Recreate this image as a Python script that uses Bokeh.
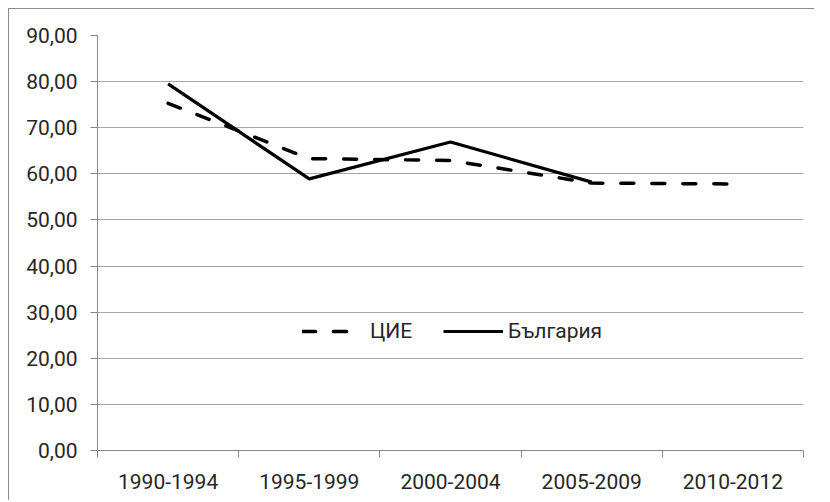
from bokeh.plotting import figure
from bokeh.models import FixedTicker, Range1d, Legend, LegendItem, ColumnDataSource
from bokeh.embed import file_html
from bokeh.resources import INLINE

categories = ["1990-1994", "1995-1999", "2000-2004", "2005-2009", "2010-2012"]
cie = [75.3, 63.3, 62.9, 58.0, 57.8]
bulgaria = [79.5, 58.9, 66.9, 58.2, float("nan")]
series_names = ["ЦИЕ", "България"]
y_ticks = [0, 10, 20, 30, 40, 50, 60, 70, 80, 90]

FONT = "Roboto"
TEXT = "#262626"

FW, FH = 706, 415
BL, BT, BR, BB = 88, 26, 11, 50

xs = [i + 0.5 for i in range(len(categories))]

p = figure(frame_width=FW, frame_height=FH, output_backend="svg", toolbar_location=None,
           x_range=Range1d(0, len(categories)), y_range=Range1d(0, 90),
           min_border_left=BL, min_border_top=BT, min_border_right=BR, min_border_bottom=BB)
p.styles = {"border-left": "1px solid #8c8c8c", "border-top": "1px solid #8c8c8c",
            "margin-left": "8px", "margin-top": "8px"}
p.outline_line_color = None
p.background_fill_color = "white"
p.border_fill_color = "white"

src = ColumnDataSource(dict(x=xs, cie=cie, bg=bulgaria))
r_cie = p.line("x", "cie", source=src, line_color="black", line_width=3.5,
               line_dash="13 18", line_cap="round", line_join="round")
r_bg = p.line("x", "bg", source=src, line_color="black", line_width=3.2,
              line_join="round")

# y axis
p.yaxis.ticker = FixedTicker(ticks=y_ticks, minor_ticks=[])
p.yaxis.major_label_overrides = {t: f"{t:.2f}".replace(".", ",") for t in y_ticks}
p.yaxis.axis_line_color = "#868686"
p.yaxis.major_tick_line_color = "#868686"
p.yaxis.major_tick_out = 7
p.yaxis.major_tick_in = 0
p.yaxis.major_label_standoff = 13
p.yaxis.major_label_text_font = FONT
p.yaxis.major_label_text_font_size = "21px"
p.yaxis.major_label_text_color = TEXT

# x axis: labels at category centers, ticks at category boundaries
p.xaxis.ticker = FixedTicker(ticks=xs, minor_ticks=list(range(len(categories) + 1)))
p.xaxis.major_label_overrides = {x: c for x, c in zip(xs, categories)}
p.xaxis.axis_line_color = "#868686"
p.xaxis.major_tick_line_color = None
p.xaxis.major_tick_out = 0
p.xaxis.major_tick_in = 0
p.xaxis.minor_tick_line_color = "#868686"
p.xaxis.minor_tick_out = 7
p.xaxis.minor_tick_in = 0
p.xaxis.major_label_standoff = 16
p.xaxis.major_label_text_font = FONT
p.xaxis.major_label_text_font_size = "21px"
p.xaxis.major_label_text_color = TEXT

p.xgrid.grid_line_color = None
p.ygrid.ticker = FixedTicker(ticks=y_ticks[1:])
p.ygrid.grid_line_color = "#a6a6a6"
p.ygrid.grid_line_width = 1


def make_legend(item, loc, gw, standoff):
    lg = Legend(items=[item], location=loc, orientation="horizontal",
                glyph_width=gw, glyph_height=20, label_height=20,
                label_standoff=standoff, padding=0, margin=0, spacing=0,
                border_line_color=None, background_fill_alpha=0,
                label_text_font=FONT, label_text_font_size="21px",
                label_text_color=TEXT)
    p.add_layout(lg, "center")


make_legend(LegendItem(label=series_names[0], renderers=[r_cie]), (205, 107), 48, 20)
make_legend(LegendItem(label=series_names[1], renderers=[r_bg]), (346, 107), 60, 5)

open("out.html", "w").write(file_html(p, INLINE))
